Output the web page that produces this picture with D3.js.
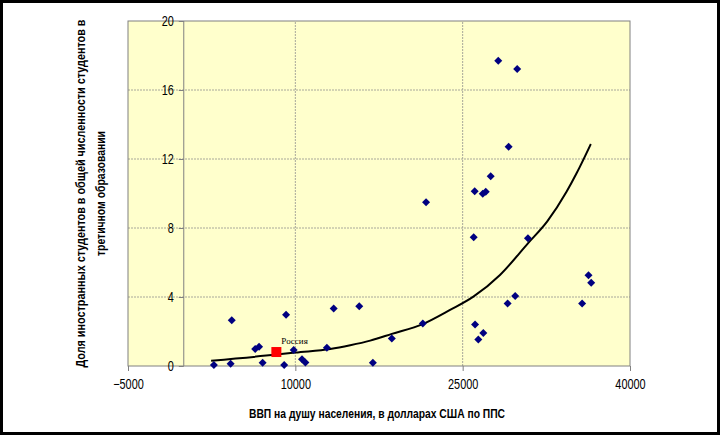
<!DOCTYPE html>
<html>
<head>
<meta charset="utf-8">
<script src="https://cdn.jsdelivr.net/npm/d3@7"></script>
<style>
  body { margin: 0; background: #fff; }
  svg text { font-family: "Liberation Sans", Arial, sans-serif; }
</style>
</head>
<body>
<svg width="720" height="435"></svg>
<script>
// GDP per capita (PPP, USD) and share of foreign students, %
const gdp = [2700, 4200, 4300, 6400, 6750, 7070, 9000, 9170, 9850, 10600, 10900, 12830,
  13440, 15730, 16950, 18650, 21430, 21720, 25990, 26080, 26110, 26400, 26800, 26850,
  27070, 27510, 28190, 29030, 29120, 29710, 29890, 30850, 35710, 36280, 36520];
const share = [0.06, 0.13, 2.65, 0.99, 1.12, 0.19, 0.06, 2.97, 0.93, 0.39, 0.21, 1.06,
  3.33, 3.46, 0.19, 1.6, 2.47, 9.49, 7.46, 10.13, 2.41, 1.54, 9.99, 1.91,
  10.1, 11.0, 17.7, 3.63, 12.71, 4.06, 17.22, 7.4, 3.63, 5.26, 4.83];

const russia = { name: "Россия", gdp: 8300, share: 0.81 };

// trend line
const trendX = [2450, 8300, 10000, 13130, 14920, 16710, 18650, 21425, 23870, 25960,
  28345, 30850, 32600, 34310, 35210, 36490];
const trendY = [0.31, 0.66, 0.78, 0.98, 1.2, 1.47, 1.86, 2.43, 3.25, 4.02,
  5.28, 7.11, 8.4, 10.1, 11.17, 12.87];

const xTicks = [-5000, 10000, 25000, 40000];
const yTicks = [0, 4, 8, 12, 16, 20];

const xTitle = "ВВП на душу населения, в долларах США по ППС";
const yTitle = ["Доля иностранных студентов в общей численности студентов в", "третичном образовании"];

const svg = d3.select("svg");
const margin = {top: 21, left: 128, right: 90, bottom: 69};
const W = 720, H = 435;
const narrow = 0.78; // the reference uses a condensed face

const x = d3.scaleLinear().domain([-5000, 40000]).range([margin.left, W - margin.right]);
const y = d3.scaleLinear().domain([0, 20]).range([H - margin.bottom, margin.top]);

// outer frame
svg.append("rect")
  .attr("x", 1.5).attr("y", 1.5)
  .attr("width", W - 3).attr("height", H - 3)
  .attr("fill", "#fff").attr("stroke", "#000").attr("stroke-width", 3);

// plot area
svg.append("rect")
  .attr("x", x(-5000)).attr("y", y(20))
  .attr("width", x(40000) - x(-5000)).attr("height", y(0) - y(20))
  .attr("fill", "#ffffcc");

// grid
svg.append("g").selectAll("line")
  .data(yTicks.filter(d => d > 0 && d < 20))
  .join("line")
  .attr("x1", x(-5000)).attr("x2", x(40000))
  .attr("y1", d => y(d)).attr("y2", d => y(d))
  .attr("stroke", "#a8a89a").attr("stroke-width", 1).attr("stroke-dasharray", "2,1");

svg.append("g").selectAll("line")
  .data(xTicks.filter(d => d > -5000 && d < 40000))
  .join("line")
  .attr("x1", d => x(d)).attr("x2", d => x(d))
  .attr("y1", y(0)).attr("y2", y(20))
  .attr("stroke", "#a8a89a").attr("stroke-width", 1).attr("stroke-dasharray", "2,1");

// plot border
svg.append("rect")
  .attr("x", x(-5000)).attr("y", y(20))
  .attr("width", x(40000) - x(-5000)).attr("height", y(0) - y(20))
  .attr("fill", "none").attr("stroke", "#808080").attr("stroke-width", 1);

// axes
const xAxis = svg.append("g")
  .attr("transform", `translate(0, ${y(0)})`)
  .call(d3.axisBottom(x).tickValues(xTicks).tickSize(5).tickPadding(8).tickFormat(d3.format("d")));
const yAxis = svg.append("g")
  .attr("transform", `translate(${x(0)}, 0)`)
  .call(d3.axisLeft(y).tickValues(yTicks).tickSize(5).tickPadding(5));

[xAxis, yAxis].forEach(g => {
  g.select(".domain").attr("stroke", "#808080");
  g.selectAll(".tick line").attr("stroke", "#808080");
  g.selectAll(".tick text").attr("fill", "#000").attr("font-size", 14)
    .style("font-family", '"Liberation Sans", Arial, sans-serif');
});
xAxis.select(".domain").remove();
xAxis.selectAll(".tick text").attr("transform", `scale(${narrow},1)`);
yAxis.selectAll(".tick text").attr("x", -10 / narrow).attr("transform", `scale(${narrow},1)`);
yAxis.select(".domain").attr("d", `M0,${y(20)}V${y(0)}`);
yAxis.selectAll(".tick line").attr("x1", 0);

// trend line
const trend = trendX.map((v, i) => [v, trendY[i]]);
svg.append("path")
  .datum(trend)
  .attr("fill", "none")
  .attr("stroke", "#000")
  .attr("stroke-width", 2)
  .attr("d", d3.line().x(d => x(d[0])).y(d => y(d[1])).curve(d3.curveMonotoneX));

// points
const diamond = d3.symbol(d3.symbolSquare, 32);
svg.append("g").selectAll("path")
  .data(gdp.map((v, i) => [v, share[i]]))
  .join("path")
  .attr("d", diamond)
  .attr("transform", d => `translate(${x(d[0])},${y(d[1])}) rotate(45)`)
  .attr("fill", "#000080");

// Russia
svg.append("rect")
  .attr("x", x(russia.gdp) - 5).attr("y", y(russia.share) - 5)
  .attr("width", 10).attr("height", 10)
  .attr("fill", "#ff0000");
svg.append("text")
  .attr("x", x(russia.gdp) + 5).attr("y", y(russia.share) - 8)
  .attr("font-size", 9)
  .style("font-family", '"Liberation Serif", "Times New Roman", serif')
  .text(russia.name);

// titles
svg.append("text")
  .attr("x", (x(-5000) + x(40000)) / 2 - 2)
  .attr("y", 418)
  .attr("text-anchor", "middle")
  .attr("font-size", 13).attr("font-weight", "bold")
  .attr("textLength", 256).attr("lengthAdjust", "spacingAndGlyphs")
  .text(xTitle);

const yLens = [348, 125];
yTitle.forEach((t, i) => {
  svg.append("text")
    .attr("transform", `translate(${85 + i * 20}, ${(y(0) + y(20)) / 2}) rotate(-90)`)
    .attr("text-anchor", "middle")
    .attr("font-size", 13).attr("font-weight", "bold")
    .attr("textLength", yLens[i]).attr("lengthAdjust", "spacingAndGlyphs")
    .text(t);
});
</script>
</body>
</html>
